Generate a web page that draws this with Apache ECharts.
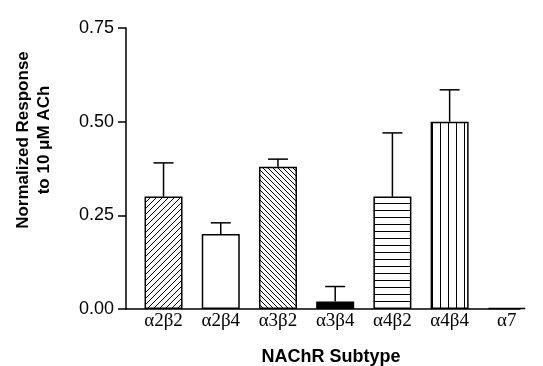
<!DOCTYPE html>
<html>
<head>
<meta charset="utf-8">
<script src="https://cdn.jsdelivr.net/npm/echarts@6/dist/echarts.min.js"></script>
<style>
  html, body { margin: 0; padding: 0; background: #fff; }
  #chart { width: 543px; height: 366px; }
</style>
</head>
<body>
<div id="chart"></div>
<script>
"use strict"

// 数据
let subtypes = ["α2β2", "α2β4", "α3β2", "α3β4", "α4β2", "α4β4", "α7"];
let means = [0.30, 0.20, 0.38, 0.02, 0.30, 0.50, 0.003];
let errors = [0.09, 0.03, 0.02, 0.04, 0.17, 0.085, 0];
let yTicks = [0, 0.25, 0.5, 0.75];

// 填充图案
function makePattern(kind) {
    let c = document.createElement("canvas");
    let w = 6, h = 6;
    if (kind === "fwd") { w = h = 6; }
    if (kind === "back") { w = h = 5; }
    if (kind === "horiz") { w = 4; h = 7; }
    if (kind === "vert") { w = 8; h = 4; }
    c.width = w;
    c.height = h;
    let ctx = c.getContext("2d");
    ctx.fillStyle = "#fff";
    ctx.fillRect(0, 0, w, h);
    ctx.strokeStyle = "#000";
    ctx.lineWidth = 1;
    ctx.beginPath();
    if (kind === "fwd") {
        ctx.moveTo(-1, h + 1); ctx.lineTo(w + 1, -1);
        ctx.moveTo(-1, 1); ctx.lineTo(1, -1);
        ctx.moveTo(w - 1, h + 1); ctx.lineTo(w + 1, h - 1);
    } else if (kind === "back") {
        ctx.moveTo(-1, -1); ctx.lineTo(w + 1, h + 1);
        ctx.moveTo(w - 1, -1); ctx.lineTo(w + 1, 1);
        ctx.moveTo(-1, h - 1); ctx.lineTo(1, h + 1);
    } else if (kind === "horiz") {
        ctx.moveTo(0, 0.5); ctx.lineTo(w, 0.5);
    } else if (kind === "vert") {
        ctx.moveTo(0.5, 0); ctx.lineTo(0.5, h);
    }
    ctx.stroke();
    return { image: c, repeat: "repeat" };
}

let fills = [
    makePattern("fwd"),
    "#fff",
    makePattern("back"),
    "#000",
    makePattern("horiz"),
    makePattern("vert"),
    "#000"
];

let barData = means.map(function (v, i) {
    return { value: [i, v], itemStyle: { color: fills[i] } };
});
let errData = means.map(function (v, i) {
    return [i, v, v + errors[i]];
});

let myChart = echarts.init(document.getElementById("chart"));
let option = {
    backgroundColor: "#fff",
    animation: false,
    grid: { left: 126, right: 23, top: 28, bottom: 57 },
    xAxis: {
        type: "value",
        min: -0.656,
        max: 6.23,
        splitLine: { show: false },
        axisLine: { show: true, onZero: false, lineStyle: { color: "#000", width: 1.5 } },
        axisTick: { show: false },
        axisLabel: {
            customValues: [0, 1, 2, 3, 4, 5, 6],
            formatter: function (v) { return subtypes[Math.round(v)]; },
            color: "#000",
            fontFamily: "Liberation Serif",
            fontSize: 19,
            margin: 3
        }
    },
    yAxis: {
        type: "value",
        min: 0,
        max: 0.75,
        interval: 0.25,
        splitLine: { show: false },
        axisLine: { show: true, onZero: false, lineStyle: { color: "#000", width: 1.5 } },
        axisTick: { show: true, length: 8, lineStyle: { color: "#000", width: 1.5 } },
        axisLabel: {
            customValues: yTicks,
            formatter: function (v) { return v.toFixed(2); },
            color: "#000",
            fontFamily: "Liberation Sans",
            fontSize: 18,
            margin: 12
        }
    },
    graphic: [
        {
            type: "text",
            x: 34,
            y: 140,
            rotation: Math.PI / 2,
            style: {
                text: "Normalized Response\nto 10 μM ACh",
                font: 'bold 17px "Liberation Sans"',
                lineHeight: 21,
                fill: "#000",
                align: "center",
                verticalAlign: "middle"
            }
        },
        {
            type: "text",
            x: 331,
            y: 357,
            style: {
                text: "NAChR Subtype",
                font: 'bold 18px "Liberation Sans"',
                fill: "#000",
                align: "center",
                verticalAlign: "middle"
            }
        }
    ],
    series: [
        {
            type: "bar",
            barWidth: 38,
            data: barData,
            itemStyle: { borderColor: "#000", borderWidth: 1.5 }
        },
        {
            type: "custom",
            z: 5,
            data: errData,
            renderItem: function (params, api) {
                let top = api.coord([api.value(0), api.value(2)]);
                let base = api.coord([api.value(0), api.value(1)]);
                if (base[1] - top[1] < 0.5) return null;
                let half = 10;
                return {
                    type: "group",
                    children: [
                        {
                            type: "line",
                            shape: { x1: top[0], y1: top[1], x2: base[0], y2: base[1] },
                            style: { stroke: "#000", lineWidth: 1.5 }
                        },
                        {
                            type: "line",
                            shape: { x1: top[0] - half, y1: top[1], x2: top[0] + half, y2: top[1] },
                            style: { stroke: "#000", lineWidth: 1.5 }
                        }
                    ]
                };
            }
        }
    ]
};
myChart.setOption(option);
</script>
</body>
</html>
